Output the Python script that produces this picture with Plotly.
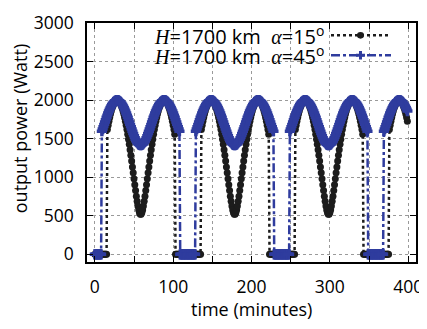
import plotly.graph_objects as go

# time axis (minutes), one sample per minute
time_min = list(range(0, 400))

# output power (Watt), H=1700 km, alpha=15 deg
power_a15 = (
    [0, 0, 0, 0, 0, 0, 0, 0, 0, 0, 0, 0, 0, 0, 0, 0]
    + [1618, 1674, 1727, 1775, 1819, 1858, 1893, 1923, 1948, 1969, 1984, 1994, 1999,
       1999, 1994, 1984, 1969, 1948, 1923, 1893, 1858, 1819, 1775, 1727, 1674, 1618, 1558, 1494, 1427, 1357,
       1285, 1210, 1134, 1057, 980, 903, 827, 754, 687, 626, 576, 539, 520,
       520, 539, 576, 626, 687, 754, 827, 903, 980, 1057, 1134, 1210, 1285, 1357, 1427, 1494, 1558,
       1618, 1674, 1727, 1775, 1819, 1858, 1893, 1923, 1948, 1969, 1984, 1994, 1999,
       1999, 1994, 1984, 1969, 1948, 1923, 1893, 1858, 1819, 1775, 1727, 1674, 1618, 1558]
    + [0, 0, 0, 0, 0, 0, 0, 0, 0, 0, 0, 0, 0, 0, 0, 0, 0, 0, 0, 0, 0, 0, 0, 0, 0, 0, 0, 0, 0, 0, 0, 0, 0]
    + [1618, 1674, 1727, 1775, 1819, 1858, 1893, 1923, 1948, 1969, 1984, 1994, 1999,
       1999, 1994, 1984, 1969, 1948, 1923, 1893, 1858, 1819, 1775, 1727, 1674, 1618, 1558, 1494, 1427, 1357,
       1285, 1210, 1134, 1057, 980, 903, 827, 754, 687, 626, 576, 539, 520,
       520, 539, 576, 626, 687, 754, 827, 903, 980, 1057, 1134, 1210, 1285, 1357, 1427, 1494, 1558,
       1618, 1674, 1727, 1775, 1819, 1858, 1893, 1923, 1948, 1969, 1984, 1994, 1999,
       1999, 1994, 1984, 1969, 1948, 1923, 1893, 1858, 1819, 1775, 1727, 1674, 1618, 1558]
    + [0, 0, 0, 0, 0, 0, 0, 0, 0, 0, 0, 0, 0, 0, 0, 0, 0, 0, 0, 0, 0, 0, 0, 0, 0, 0, 0, 0, 0, 0, 0, 0, 0]
    + [1618, 1674, 1727, 1775, 1819, 1858, 1893, 1923, 1948, 1969, 1984, 1994, 1999,
       1999, 1994, 1984, 1969, 1948, 1923, 1893, 1858, 1819, 1775, 1727, 1674, 1618, 1558, 1494, 1427, 1357,
       1285, 1210, 1134, 1057, 980, 903, 827, 754, 687, 626, 576, 539, 520,
       520, 539, 576, 626, 687, 754, 827, 903, 980, 1057, 1134, 1210, 1285, 1357, 1427, 1494, 1558,
       1618, 1674, 1727, 1775, 1819, 1858, 1893, 1923, 1948, 1969, 1984, 1994, 1999,
       1999, 1994, 1984, 1969, 1948, 1923, 1893, 1858, 1819, 1775, 1727, 1674, 1618, 1558]
    + [0, 0, 0, 0, 0, 0, 0, 0, 0, 0, 0, 0, 0, 0, 0, 0, 0, 0, 0, 0, 0, 0, 0, 0, 0, 0, 0, 0, 0, 0, 0, 0, 0]
    + [1618, 1674, 1727, 1775, 1819, 1858, 1893, 1923, 1948, 1969, 1984, 1994, 1999,
       1999, 1994, 1984, 1969, 1948, 1923, 1893, 1858, 1819, 1775, 1727]
)

# output power (Watt), H=1700 km, alpha=45 deg
power_a45 = (
    [0, 0, 0, 0, 0, 0, 0, 0, 0]
    + [1596, 1625, 1656, 1686, 1717, 1747, 1777, 1805, 1833, 1858, 1883, 1905, 1925, 1943, 1959, 1973, 1983, 1991, 1997, 2000,
       2000, 1997, 1991, 1983, 1973, 1959, 1943, 1925, 1905, 1883, 1858, 1833, 1805, 1777, 1747,
       1717, 1686, 1656, 1625, 1596, 1567, 1540, 1514, 1491, 1470, 1452, 1438, 1426, 1419, 1415,
       1415, 1419, 1426, 1438, 1452, 1470, 1491, 1514, 1540, 1567, 1596, 1625, 1656, 1686, 1717,
       1747, 1777, 1805, 1833, 1858, 1883, 1905, 1925, 1943, 1959, 1973, 1983, 1991, 1997, 2000,
       2000, 1997, 1991, 1983, 1973, 1959, 1943, 1925, 1905, 1883, 1858, 1833, 1805, 1777, 1747, 1717, 1686, 1656, 1625, 1596]
    + [0, 0, 0, 0, 0, 0, 0, 0, 0, 0, 0, 0, 0, 0, 0, 0, 0, 0, 0, 0]
    + [1596, 1625, 1656, 1686, 1717, 1747, 1777, 1805, 1833, 1858, 1883, 1905, 1925, 1943, 1959, 1973, 1983, 1991, 1997, 2000,
       2000, 1997, 1991, 1983, 1973, 1959, 1943, 1925, 1905, 1883, 1858, 1833, 1805, 1777, 1747,
       1717, 1686, 1656, 1625, 1596, 1567, 1540, 1514, 1491, 1470, 1452, 1438, 1426, 1419, 1415,
       1415, 1419, 1426, 1438, 1452, 1470, 1491, 1514, 1540, 1567, 1596, 1625, 1656, 1686, 1717,
       1747, 1777, 1805, 1833, 1858, 1883, 1905, 1925, 1943, 1959, 1973, 1983, 1991, 1997, 2000,
       2000, 1997, 1991, 1983, 1973, 1959, 1943, 1925, 1905, 1883, 1858, 1833, 1805, 1777, 1747, 1717, 1686, 1656, 1625, 1596]
    + [0, 0, 0, 0, 0, 0, 0, 0, 0, 0, 0, 0, 0, 0, 0, 0, 0, 0, 0, 0]
    + [1596, 1625, 1656, 1686, 1717, 1747, 1777, 1805, 1833, 1858, 1883, 1905, 1925, 1943, 1959, 1973, 1983, 1991, 1997, 2000,
       2000, 1997, 1991, 1983, 1973, 1959, 1943, 1925, 1905, 1883, 1858, 1833, 1805, 1777, 1747,
       1717, 1686, 1656, 1625, 1596, 1567, 1540, 1514, 1491, 1470, 1452, 1438, 1426, 1419, 1415,
       1415, 1419, 1426, 1438, 1452, 1470, 1491, 1514, 1540, 1567, 1596, 1625, 1656, 1686, 1717,
       1747, 1777, 1805, 1833, 1858, 1883, 1905, 1925, 1943, 1959, 1973, 1983, 1991, 1997, 2000,
       2000, 1997, 1991, 1983, 1973, 1959, 1943, 1925, 1905, 1883, 1858, 1833, 1805, 1777, 1747, 1717, 1686, 1656, 1625, 1596]
    + [0, 0, 0, 0, 0, 0, 0, 0, 0, 0, 0, 0, 0, 0, 0, 0, 0, 0, 0, 0]
    + [1596, 1625, 1656, 1686, 1717, 1747, 1777, 1805, 1833, 1858, 1883, 1905, 1925, 1943, 1959, 1973, 1983, 1991, 1997, 2000,
       2000, 1997, 1991, 1983, 1973, 1959, 1943, 1925, 1905, 1883, 1858]
)

if len(power_a15) != len(time_min) or len(power_a45) != len(time_min):
    raise SystemExit(f"length mismatch: {len(time_min)} {len(power_a15)} {len(power_a45)}")

SERIF = "<span style='font-family:Liberation Serif'><i>{}</i></span>"
series_labels = [
    SERIF.format("H") + "=1700 km\u00a0\u00a0" + SERIF.format("α") + "=15<sup>o</sup>",
    SERIF.format("H") + "=1700 km\u00a0\u00a0" + SERIF.format("α") + "=45<sup>o</sup>",
]

BLACK = "#1c1c1c"
BLUE = "#2f3c9e"
FONT = "Open Sans"

fig = go.Figure()
fig.add_trace(go.Scatter(
    x=time_min, y=power_a15, mode="lines+markers",
    line=dict(color=BLACK, width=2.5, dash="dot"),
    marker=dict(symbol="circle", size=7, color=BLACK),
    showlegend=False,
))
fig.add_trace(go.Scatter(
    x=time_min, y=power_a45, mode="lines+markers",
    line=dict(color=BLUE, width=2.5, dash="dashdot"),
    marker=dict(symbol="cross", size=8.5, color=BLUE),
    showlegend=False,
))

# the page body has an 8px default margin, so the figure is laid out at an offset
OFF = 8
W, H = 427 - OFF, 329 - OFF
L, R, T, B = 87 - OFF, 11, 10 - OFF, 67
pw, ph = W - L - R, H - T - B

def px(xp):
    return (xp - OFF - L) / pw

def py(yp):
    return (H - B - (yp - OFF)) / ph

shapes = [
    dict(type="rect", xref="paper", yref="paper", x0=px(88), x1=px(404), y0=py(57), y1=py(11),
         fillcolor="white", line=dict(width=0), layer="between"),
]
annotations = []
rows = [23, 44]
for k, (lab, col, dash) in enumerate(zip(series_labels, [BLACK, BLUE], ["dot", "dashdot"])):
    yy = py(rows[k])
    annotations.append(dict(text=lab, xref="paper", yref="paper", x=px(326), y=yy,
                            xanchor="right", yanchor="middle", showarrow=False,
                            font=dict(family=FONT, size=20, color="black")))
    shapes.append(dict(type="line", xref="paper", yref="paper", x0=px(331), x1=px(391), y0=yy, y1=yy,
                       line=dict(color=col, width=2.5, dash=dash)))
    if k == 0:
        shapes.append(dict(type="circle", xref="paper", yref="paper",
                           x0=px(357), x1=px(364), y0=py(rows[k] + 3.5), y1=py(rows[k] - 3.5),
                           fillcolor=BLACK, line=dict(width=0)))
    else:
        shapes.append(dict(type="line", xref="paper", yref="paper", x0=px(356), x1=px(365), y0=yy, y1=yy,
                           line=dict(color=col, width=3)))
        shapes.append(dict(type="line", xref="paper", yref="paper", x0=px(360.5), x1=px(360.5),
                           y0=py(rows[k] + 4.5), y1=py(rows[k] - 4.5), line=dict(color=col, width=3)))

annotations.append(dict(text="time (minutes)", xref="paper", yref="paper", x=px(251), y=py(312),
                        xanchor="center", yanchor="middle", showarrow=False,
                        font=dict(family=FONT, size=18, color="black")))
annotations.append(dict(text="output power (Watt)", xref="paper", yref="paper", x=px(20), y=py(122),
                        xanchor="center", yanchor="middle", textangle=-90, showarrow=False,
                        font=dict(family=FONT, size=18, color="black")))

axis_common = dict(
    ticks="inside", ticklen=6, tickwidth=1, tickcolor="black",
    showline=True, linecolor="black", linewidth=1.5, mirror="allticks",
    showgrid=True, gridcolor="#9a9a9a", griddash="dot", gridwidth=1,
    zeroline=False, tickfont=dict(family=FONT, size=17.5, color="black"),
)

fig.update_layout(
    width=W, height=H, margin=dict(l=L, r=R, t=T, b=B),
    paper_bgcolor="white", plot_bgcolor="white",
    shapes=shapes, annotations=annotations,
    xaxis=dict(range=[-10, 410], tick0=0, dtick=100, ticklabelstandoff=8,
               minor=dict(dtick=50, ticks="inside", ticklen=6, tickcolor="black",
                          showgrid=True, gridcolor="#9a9a9a", griddash="dot", gridwidth=1),
               **axis_common),
    yaxis=dict(range=[-100, 3000.5], tick0=0, dtick=500, ticklabelstandoff=8,
               ticklabeloverflow="allow", **axis_common),
)

fig.write_html("out.html")
